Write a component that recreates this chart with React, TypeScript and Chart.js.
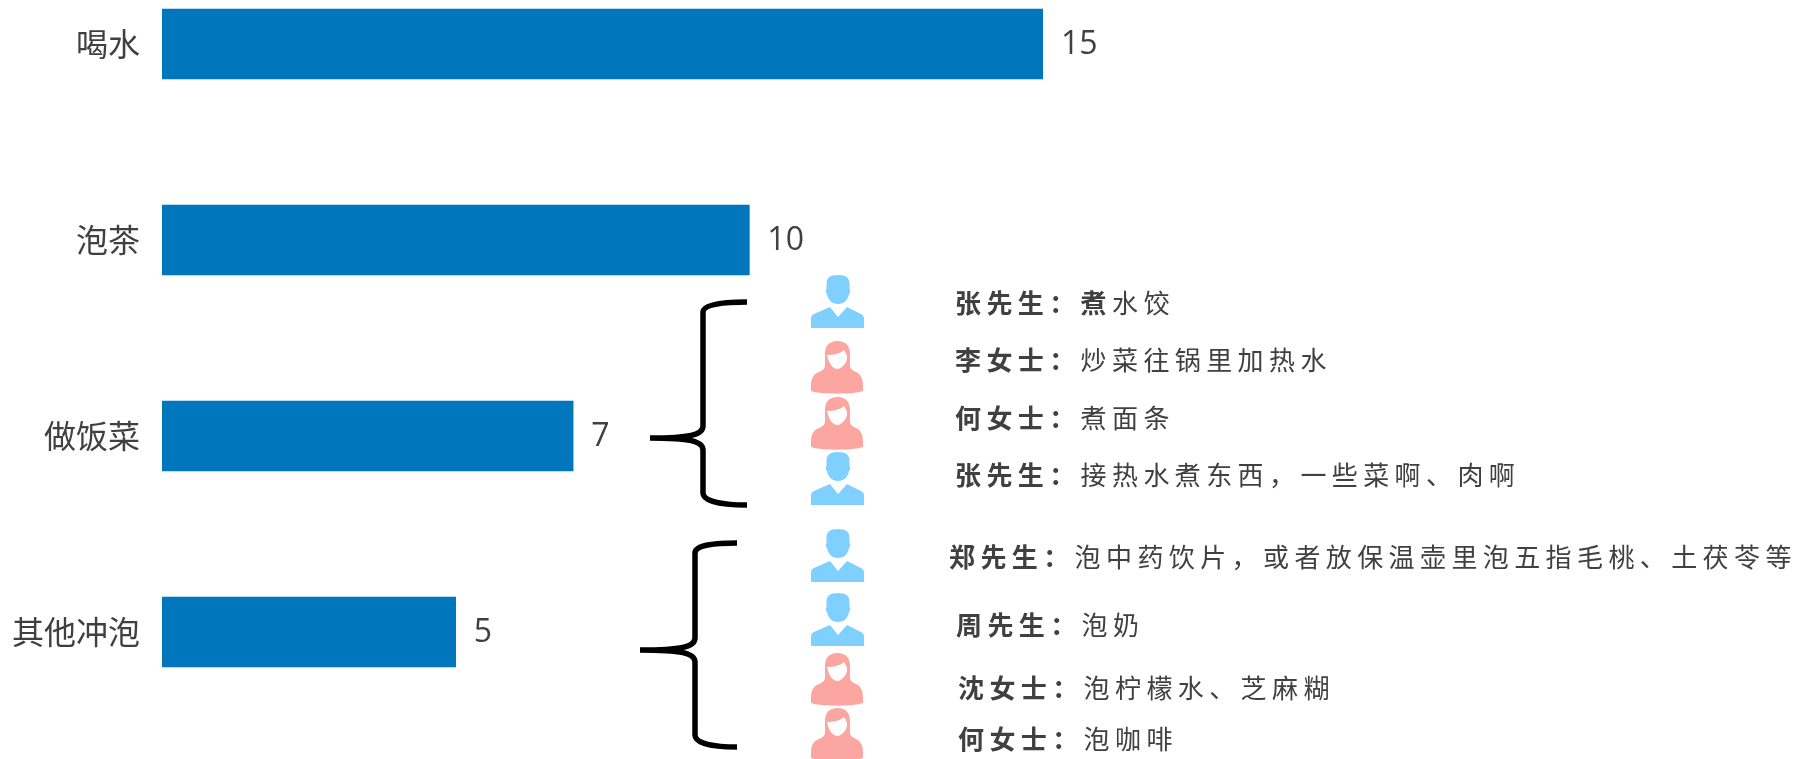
import React, { useEffect, useRef } from "react";
import { Chart, registerables } from "chart.js";

Chart.register(...registerables);

const categories = ["喝水", "泡茶", "做饭菜", "其他冲泡"];
const counts = [15, 10, 7, 5];

const cookNames = ["张先生：", "李女士：", "何女士：", "张先生："];
const cookBoldLead = ["煮", "", "", ""];
const cookNotes = ["水饺", "炒菜往锅里加热水", "煮面条", "接热水煮东西，一些菜啊、肉啊"];
const cookGender = ["m", "f", "f", "m"];

const otherNames = ["郑先生：", "周先生：", "沈女士：", "何女士："];
const otherNotes = ["泡中药饮片，或者放保温壶里泡五指毛桃、土茯苓等", "泡奶", "泡柠檬水、芝麻糊", "泡咖啡"];
const otherGender = ["m", "m", "f", "f"];

const BAR = "#0076BC";
const TEXT = "#404040";
const CJK = '"Noto Sans CJK SC"';

const MALE = new Path2D(
  "M27 0C19 0 15.5 3 15.5 9L15.5 14C14.5 15 14.5 18 16 19C17 25 21 29 27 29C33 29 37 25 38 19C39.5 18 39.5 15 38.5 14L38.5 9C38.5 3 35 0 27 0Z" +
    "M19 32L4 38.5C1 40 0 41 0 44L0 53L53 53L53 44C53 41 52 40 49 38.5L36 32L27 42Z"
);
const FEMALE = new Path2D(
  "M26.5 0C18 0 14 5 14 13L14 24C14 28 12 29 8 31C2 33 0 38 0 45L0 50C8 53.5 44 53.5 52 50L52 45C52 38 50 33 45 31C41 29 39 28 39 24L39 13C39 5 35 0 26.5 0Z"
);
const FACE = new Path2D(
  "M16 14C22 14 29 13 33 9C36 13 37 17 35 21C33 25 29 28 26.5 28C22 28 18 23 16 14Z"
);

const cookIconY = [275, 341, 397, 452];
const cookTextY = [303, 360, 418, 475];
const otherIconY = [529, 593, 653, 708];
const otherTextY = [557, 625, 688, 739];
const otherTextX = [949, 956, 958, 958];

function brace(ctx: CanvasRenderingContext2D, endX: number, spineX: number, tipX: number, top: number, mid: number, bottom: number) {
  ctx.beginPath();
  ctx.moveTo(endX, top);
  ctx.bezierCurveTo(endX - 22, top, spineX, top + 2, spineX, top + 10);
  ctx.lineTo(spineX, mid - 12);
  ctx.bezierCurveTo(spineX, mid - 3, spineX - 14, mid, tipX, mid);
  ctx.bezierCurveTo(spineX - 14, mid, spineX, mid + 3, spineX, mid + 12);
  ctx.lineTo(spineX, bottom - 12);
  ctx.bezierCurveTo(spineX, bottom - 3, endX - 22, bottom, endX, bottom);
  ctx.strokeStyle = "#000000";
  ctx.lineWidth = 5.5;
  ctx.lineCap = "butt";
  ctx.stroke();
}

function person(ctx: CanvasRenderingContext2D, gender: string, x: number, y: number) {
  ctx.save();
  ctx.translate(x, y);
  if (gender === "m") {
    ctx.fillStyle = "#7FCFFF";
    ctx.fill(MALE);
  } else {
    ctx.fillStyle = "#FBA6A0";
    ctx.fill(FEMALE);
    ctx.fillStyle = "#FFFFFF";
    ctx.fill(FACE);
  }
  ctx.restore();
}

function spaced(ctx: CanvasRenderingContext2D, text: string, x: number, y: number, bold: boolean) {
  ctx.font = `${bold ? "bold " : ""}26px ${CJK}`;
  ctx.fillText(text, x, y);
  return x + ctx.measureText(text).width;
}

const annotations = {
  id: "annotations",
  afterDraw(chart: any) {
    const ctx: CanvasRenderingContext2D = chart.ctx;
    const meta = chart.getDatasetMeta(0);
    ctx.save();

    ctx.fillStyle = TEXT;
    ctx.textBaseline = "middle";
    ctx.textAlign = "left";
    ctx.font = '32px "Open Sans"';
    meta.data.forEach((bar: any, i: number) => {
      ctx.fillText(String(counts[i]), bar.x + 18, bar.y + 1);
    });

    brace(ctx, 747, 703, 650, 302, 438, 505);
    brace(ctx, 737, 695, 640, 543, 650, 747);

    cookIconY.forEach((y, i) => person(ctx, cookGender[i], 811, y));
    otherIconY.forEach((y, i) => person(ctx, otherGender[i], 811, y));

    ctx.fillStyle = TEXT;
    (ctx as any).letterSpacing = "5.4px";
    cookNames.forEach((name, i) => {
      const x = spaced(ctx, name + cookBoldLead[i], 955, cookTextY[i], true);
      spaced(ctx, cookNotes[i], x, cookTextY[i], false);
    });
    otherNames.forEach((name, i) => {
      const x = spaced(ctx, name, otherTextX[i], otherTextY[i], true);
      spaced(ctx, otherNotes[i], x, otherTextY[i], false);
    });
    ctx.restore();
  },
};

export default function App() {
  const ref = useRef<HTMLCanvasElement>(null);

  useEffect(() => {
    document.body.style.margin = "0";
    document.body.style.background = "#ffffff";
    const chart = new Chart(ref.current!, {
      type: "bar",
      data: {
        datasets: [
          {
            data: counts.map((v, i) => ({ x: v, y: i })),
            backgroundColor: BAR,
            borderWidth: 0,
            barThickness: 70,
          },
        ],
      },
      plugins: [annotations],
      options: {
        indexAxis: "y",
        responsive: false,
        animation: false,
        layout: { padding: { top: 0, bottom: 0, left: 0, right: 757 } },
        plugins: { legend: { display: false }, tooltip: { enabled: false }, title: { display: false } },
        scales: {
          x: { type: "linear", display: false, min: 0, max: 15 },
          y: {
            type: "linear",
            offset: false,
            reverse: true,
            min: -44 / 196,
            max: 3 + 127 / 196,
            grid: { display: false },
            border: { display: false },
            afterBuildTicks(scale: any) {
              scale.ticks = categories.map((_, i) => ({ value: i }));
            },
            afterFit(scale: any) {
              scale.width = 162;
              scale.paddingTop = 0;
              scale.paddingBottom = 0;
            },
            ticks: {
              color: TEXT,
              padding: 14,
              autoSkip: false,
              font: { family: CJK, size: 32 },
              callback: (v: number) => categories[v],
            },
          },
        },
      },
    } as any);
    return () => chart.destroy();
  }, []);

  return <canvas ref={ref} width={1800} height={759} style={{ display: "block" }} />;
}
